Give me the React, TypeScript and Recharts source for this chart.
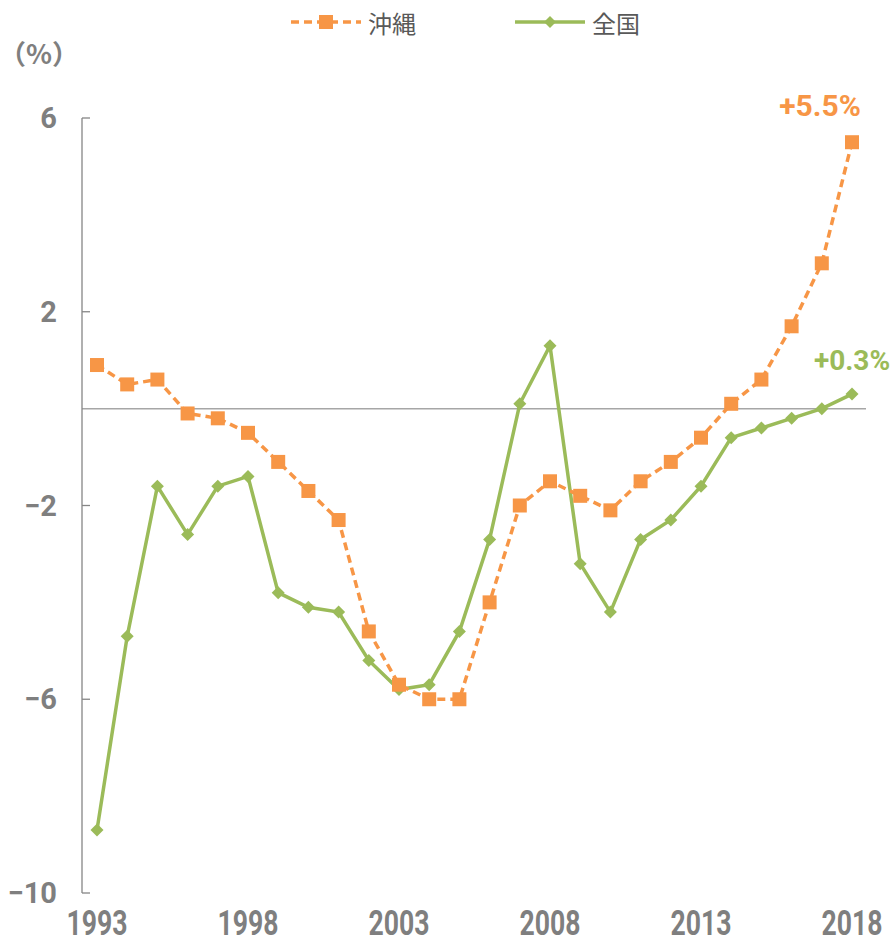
import { CartesianGrid, Legend, Line, LineChart, XAxis, YAxis } from "recharts";

const years = [
  1993, 1994, 1995, 1996, 1997, 1998, 1999, 2000, 2001, 2002, 2003, 2004, 2005,
  2006, 2007, 2008, 2009, 2010, 2011, 2012, 2013, 2014, 2015, 2016, 2017, 2018,
];
const okinawa = [
  0.9, 0.5, 0.6, -0.1, -0.2, -0.5, -1.1, -1.7, -2.3, -4.6, -5.7, -6.0, -6.0,
  -4.0, -2.0, -1.5, -1.8, -2.1, -1.5, -1.1, -0.6, 0.1, 0.6, 1.7, 3.0, 5.5,
];
const national = [
  -8.7, -4.7, -1.6, -2.6, -1.6, -1.4, -3.8, -4.1, -4.2, -5.2, -5.8, -5.7, -4.6,
  -2.7, 0.1, 1.3, -3.2, -4.2, -2.7, -2.3, -1.6, -0.6, -0.4, -0.2, 0.0, 0.3,
];
const yTicks = [-10, -6, -2, 2, 6];
const seriesNames = { okinawa: "沖縄", national: "全国" };
const unitLabel = "（%）";

const ORANGE = "#f79646";
const GREEN = "#9bbb59";
const GRAY = "#7f7f7f";
const NUM_FONT = "Roboto, 'Liberation Sans', sans-serif";
const JP_FONT = "'Noto Sans CJK JP', 'Noto Sans', sans-serif";

const data = years.map((year, i) => ({
  year: String(year),
  okinawa: okinawa[i],
  national: national[i],
}));

const fmt = (v: number) => (v < 0 ? `−${Math.abs(v)}` : String(v));
const lastIndex = years.length - 1;

const Y_MARGIN = 25;

function YTick(props: any) {
  const { x, y, payload } = props;
  const axisX = x + Y_MARGIN;
  return (
    <g>
      <line x1={axisX} x2={axisX + 8} y1={y} y2={y} stroke="#868686" strokeWidth={1.3} />
      <text
        x={x}
        y={y}
        dy={10}
        textAnchor="end"
        fill={GRAY}
        fontFamily={NUM_FONT}
        fontWeight={700}
        fontSize={29}
      >
        {fmt(payload.value)}
      </text>
    </g>
  );
}

// year labels are drawn a bit tall and narrow, like the original
function XTick(props: any) {
  const { x, y, payload } = props;
  return (
    <g transform={`translate(${x},${y + 42}) scale(0.95,1.25)`}>
      <text x={0} y={0} textAnchor="middle" fill={GRAY} fontFamily={NUM_FONT} fontWeight={700} fontSize={28}>
        {payload.value}
      </text>
    </g>
  );
}

function SquareDot(props: any) {
  const { cx, cy } = props;
  if (cx == null || cy == null) return null;
  return <rect x={cx - 7} y={cy - 7} width={14} height={14} fill={ORANGE} />;
}

function DiamondDot(props: any) {
  const { cx, cy } = props;
  if (cx == null || cy == null) return null;
  const r = 6.5;
  return <polygon points={`${cx},${cy - r} ${cx + r},${cy} ${cx},${cy + r} ${cx - r},${cy}`} fill={GREEN} />;
}

function endLabel(color: string, dx: number, dy: number, size: number) {
  return (props: any) => {
    const { x, y, index, value } = props;
    if (index !== lastIndex) return null;
    const v = Number(value);
    return (
      <text
        x={x + dx}
        y={y + dy}
        textAnchor="middle"
        fill={color}
        fontFamily={NUM_FONT}
        fontWeight={700}
        fontSize={size}
      >
        {`${v >= 0 ? "+" : "−"}${Math.abs(v).toFixed(1)}%`}
      </text>
    );
  };
}

function LegendContent() {
  return (
    <div
      style={{
        height: 44,
        display: "flex",
        alignItems: "center",
        paddingLeft: 290,
        fontFamily: JP_FONT,
        fontSize: 24,
        color: "#595959",
      }}
    >
      <svg width={72} height={20} style={{ marginRight: 6 }}>
        <line x1={1} x2={71} y1={10} y2={10} stroke={ORANGE} strokeWidth={3.5} strokeDasharray="8 5" />
        <rect x={29} y={3} width={14} height={14} fill={ORANGE} />
      </svg>
      <span>{seriesNames.okinawa}</span>
      <svg width={72} height={20} style={{ marginLeft: 98, marginRight: 6 }}>
        <line x1={1} x2={71} y1={10} y2={10} stroke={GREEN} strokeWidth={3.5} />
        <polygon points="36,4 42,10 36,16 30,10" fill={GREEN} />
      </svg>
      <span>{seriesNames.national}</span>
    </div>
  );
}

function UnitLabel(props: any) {
  const { viewBox } = props;
  return (
    <text
      x={viewBox.x + 39}
      y={viewBox.y - 54}
      textAnchor="middle"
      fill={GRAY}
      fontFamily={JP_FONT}
      fontWeight={700}
      fontSize={27}
    >
      {unitLabel}
    </text>
  );
}

export default function App() {
  return (
    <div style={{ position: "absolute", left: 0, top: 0, width: 891, height: 943, background: "#fff" }}>
      <LineChart width={891} height={943} data={data} margin={{ top: 74, right: 25, left: 0, bottom: 10 }}>
        <Legend
          verticalAlign="top"
          content={<LegendContent />}
          wrapperStyle={{ top: 0, left: 0, width: 891 }}
        />
        <CartesianGrid vertical={false} horizontalValues={[0]} stroke="#a6a6a6" strokeWidth={1.5} />
        <XAxis
          dataKey="year"
          interval={4}
          padding={{ left: 15, right: 14 }}
          axisLine={false}
          tickLine={false}
          tickSize={0}
          tickMargin={0}
          height={40}
          tick={<XTick />}
        />
        <YAxis
          type="number"
          domain={[-10, 6]}
          ticks={yTicks}
          width={82}
          axisLine={{ stroke: "#868686", strokeWidth: 1.3 }}
          tickLine={false}
          tickSize={0}
          tickMargin={Y_MARGIN}
          tick={<YTick />}
          label={<UnitLabel />}
        />
        <Line
          dataKey="national"
          name={seriesNames.national}
          stroke={GREEN}
          strokeWidth={3.5}
          dot={<DiamondDot />}
          activeDot={false}
          label={endLabel(GREEN, 0, -24, 28)}
          isAnimationActive={false}
        />
        <Line
          dataKey="okinawa"
          name={seriesNames.okinawa}
          stroke={ORANGE}
          strokeWidth={3.5}
          strokeDasharray="8 5"
          dot={<SquareDot />}
          activeDot={false}
          label={endLabel(ORANGE, -32, -26, 30)}
          isAnimationActive={false}
        />
      </LineChart>
    </div>
  );
}
